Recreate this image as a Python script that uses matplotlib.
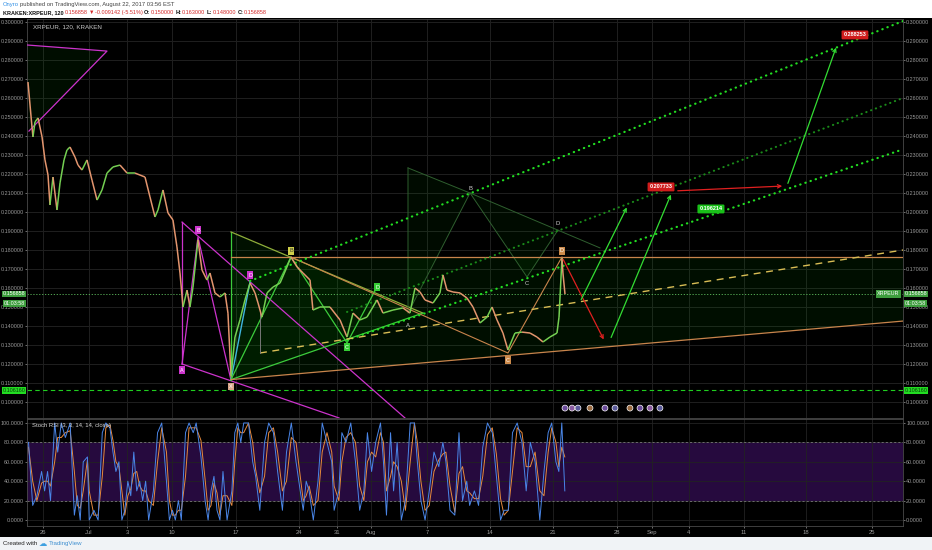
import matplotlib
matplotlib.use("Agg")
import matplotlib.pyplot as plt
from matplotlib.patches import Rectangle, Polygon
from matplotlib.collections import LineCollection
import matplotlib.transforms as mtransforms

plt.rcParams['font.family'] = ['Liberation Sans', 'DejaVu Sans']

# ---------------- data ----------------
date_ticks = [1.80, 6.97, 11.24, 16.29, 23.48, 30.56, 34.83, 38.65, 44.94, 52.02,
              59.10, 66.29, 70.22, 74.38, 80.56, 87.53, 94.94]
date_labels = ['26', 'Jul', '3', '10', '17', '24', '31', 'Aug', '7', '14',
               '21', '28', 'Sep', '4', '11', '18', '25']
price_ticks = [0.10, 0.11, 0.12, 0.13, 0.14, 0.15, 0.16, 0.17, 0.18, 0.19, 0.20,
               0.21, 0.22, 0.23, 0.24, 0.25, 0.26, 0.27, 0.28, 0.29, 0.30]
rsi_ticks = [0, 20, 40, 60, 80, 100]

price_u = [0.11, 0.56, 0.67, 0.90, 1.24, 1.69, 2.02, 2.36, 2.58, 2.92,
           3.37, 3.71, 4.16, 4.49, 4.83, 5.39, 5.73, 6.18, 6.74, 7.30,
           7.87, 8.43, 8.99, 9.66, 10.45, 11.24, 12.13, 13.26, 13.82, 14.38,
           14.72, 15.28, 15.84, 16.40, 16.85, 17.19, 17.53, 17.98, 18.31, 18.65,
           19.21, 19.66, 20.22, 20.56, 21.12, 21.69, 22.25, 22.58, 22.92, 23.37,
           23.93, 24.49, 25.06, 25.62, 25.96, 26.40, 26.97, 27.64, 28.43, 29.21,
           29.66, 30.34, 31.01, 31.80, 32.13, 32.92, 34.04, 35.17, 35.96, 36.63,
           37.42, 38.20, 39.33, 40.00, 41.12, 42.25, 43.03, 43.60, 44.16, 44.72,
           45.62, 46.40, 46.74, 47.19, 47.87, 48.65, 49.44, 50.11, 50.90, 51.69,
           52.25, 52.81, 53.48, 54.04, 54.83, 55.62, 56.52, 57.30, 57.98, 58.76,
           59.55, 59.78, 60.11, 60.22, 60.45]
price_p = [0.2684, 0.2447, 0.2395, 0.2474, 0.2495, 0.2395, 0.2274, 0.2195, 0.2037, 0.2184,
           0.2011, 0.2153, 0.2274, 0.2326, 0.2342, 0.2289, 0.2247, 0.2221, 0.2274, 0.2168,
           0.2063, 0.2116, 0.2205, 0.2237, 0.2247, 0.2205, 0.2205, 0.2184, 0.2079, 0.1974,
           0.2011, 0.2116, 0.1995, 0.1958, 0.1816, 0.1679, 0.1500, 0.1589, 0.1500, 0.1605,
           0.1853, 0.1695, 0.1642, 0.1679, 0.1574, 0.1553, 0.1574, 0.1468, 0.1135, 0.1342,
           0.1432, 0.1537, 0.1626, 0.1574, 0.1521, 0.1447, 0.1574, 0.1605, 0.1626, 0.1711,
           0.1763, 0.1711, 0.1679, 0.1642, 0.1484, 0.1500, 0.1500, 0.1432, 0.1342, 0.1468,
           0.1432, 0.1447, 0.1537, 0.1468, 0.1484, 0.1495, 0.1468, 0.1600, 0.1579, 0.1537,
           0.1521, 0.1574, 0.1668, 0.1589, 0.1579, 0.1574, 0.1547, 0.1500, 0.1416, 0.1447,
           0.1500, 0.1432, 0.1363, 0.1274, 0.1363, 0.1368, 0.1363, 0.1342, 0.1316, 0.1342,
           0.1363, 0.1447, 0.1758, 0.1679, 0.1568]

rsi_x = [0.17, 0.64, 1.11, 1.64, 1.98, 2.31, 2.64, 3.11, 3.45, 3.85,
         4.31, 4.85, 5.32, 5.65, 5.98, 6.32, 6.79, 6.99, 7.52, 7.99,
         8.46, 8.86, 9.32, 9.66, 9.99, 10.33, 10.66, 10.99, 11.33, 11.66,
         12.00, 12.33, 12.66, 13.00, 13.33, 13.67, 14.20, 14.67, 15.14, 15.67,
         16.00, 16.34, 16.67, 17.01, 17.34, 17.81, 18.21, 18.68, 19.01, 19.55,
         20.01, 20.35, 20.68, 21.01, 21.35, 21.68, 22.02, 22.48, 23.02, 23.35,
         23.69, 24.02, 24.35, 24.89, 25.36, 25.69, 26.16, 26.69, 27.16, 27.69,
         28.16, 28.70, 29.16, 29.70, 30.23, 30.70, 31.04, 31.37, 31.70, 32.17,
         32.70, 33.17, 33.71, 34.24, 34.51, 35.04, 35.38, 35.84, 36.38, 36.91,
         37.38, 37.85, 38.25, 38.72, 39.18, 39.72, 40.05, 40.39, 40.85, 41.19,
         41.59, 42.06, 42.52, 43.06, 43.53, 43.86, 44.26, 44.73, 45.20, 45.73,
         46.27, 46.73, 47.07, 47.53, 48.07, 48.54, 48.94, 49.41, 49.74, 50.27,
         50.74, 51.21, 51.74, 52.28, 52.74, 53.21, 53.61, 54.08, 54.55, 55.08,
         55.62, 56.09, 56.55, 57.09, 57.62, 58.09, 58.56, 58.96, 59.43, 59.76,
         60.09, 60.43]
rsi_k = [80, 15, 25, 50, 30, 50, 20, 100, 70, 100,
         85, 100, 5, 25, 0, 60, 65, 0, 10, 0,
         90, 100, 95, 70, 50, 60, 0, 10, 40, 25,
         70, 30, 40, 20, 40, 0, 30, 90, 100, 40,
         0, 10, 0, 20, 0, 90, 100, 90, 100, 65,
         20, 0, 30, 45, 10, 0, 50, 0, 30, 90,
         100, 80, 100, 100, 60, 45, 10, 80, 100, 90,
         50, 10, 70, 100, 60, 30, 10, 40, 30, 0,
         40, 100, 80, 60, 10, 30, 90, 80, 100, 60,
         10, 30, 90, 50, 80, 100, 60, 5, 90, 30,
         80, 0, 20, 100, 100, 60, 20, 0, 30, 70,
         55, 80, 60, 10, 5, 90, 20, 40, 15, 30,
         15, 75, 100, 90, 45, 0, 10, 10, 90, 100,
         80, 30, 80, 60, 0, 50, 90, 100, 60, 50,
         100, 30]
rsi_d = [75, 40, 20, 38, 40, 40, 35, 60, 85, 85,
         90, 92, 50, 15, 12, 30, 62, 30, 5, 5,
         45, 95, 98, 82, 60, 55, 30, 5, 25, 32,
         48, 50, 35, 30, 30, 20, 15, 60, 95, 70,
         20, 5, 5, 10, 10, 45, 95, 95, 95, 82,
         42, 10, 15, 38, 28, 5, 25, 25, 15, 60,
         95, 90, 90, 100, 80, 52, 28, 45, 90, 95,
         70, 30, 40, 85, 80, 45, 20, 25, 35, 15,
         20, 70, 90, 70, 35, 20, 60, 85, 90, 80,
         35, 20, 60, 70, 65, 90, 80, 30, 45, 60,
         55, 40, 10, 60, 100, 80, 40, 10, 15, 50,
         62, 68, 70, 35, 8, 48, 55, 30, 28, 22,
         22, 45, 88, 95, 68, 22, 5, 10, 50, 95,
         90, 55, 55, 70, 30, 25, 70, 95, 80, 55,
         75, 65]

# drawing anchors (date units, price)
mag_top = [(0.00, 0.2879), (8.99, 0.2847), (0.22, 0.2426)]
mag_X, mag_A, mag_B, mag_C, mag_D = (17.42, 0.1947), (17.42, 0.1200), (19.21, 0.1868), (22.92, 0.1115), (25.06, 0.1632)
mag_end1, mag_end2 = (42.47, 0.0916), (35.06, 0.0916)

tri_top, tri_X, tri_apex = (22.92, 0.1895), (22.92, 0.1118), (44.49, 0.1468)
grn_B, grn_C, grn_D = (29.66, 0.1763), (35.96, 0.1311), (39.33, 0.1605)

big_X, big_A, big_B, big_C, big_D, big_E = (42.81, 0.2232), (42.81, 0.1468), (49.78, 0.2100), (56.18, 0.1658), (59.66, 0.1905), (64.38, 0.1811)

org_B, org_C, org_D = (29.66, 0.1763), (54.04, 0.1258), (60.11, 0.1763)
org_top = [(22.92, 0.1763), (98.43, 0.1763)]
org_low = [(22.92, 0.1118), (98.43, 0.1426)]

dot_upper = [(25.06, 0.1637), (98.43, 0.3005)]
dot_mid = [(35.96, 0.1474), (98.43, 0.2600)]
dot_low = [(35.96, 0.1326), (98.43, 0.2330)]
yellow_dash = [(26.18, 0.1258), (98.43, 0.1800)]
gray_stub = [(26.18, 0.1468), (26.18, 0.1258)]

last_price = 0.156858
support = 0.10616

red_arrows = [[(60.11, 0.1763), (64.94, 0.1316)], [(72.81, 0.2111), (85.17, 0.2137)]]
green_arrows = [[(62.13, 0.1526), (67.53, 0.2037)], [(65.51, 0.1326), (72.47, 0.2105)],
                [(85.39, 0.2137), (91.01, 0.2879)]]
callouts = [('0.207733', (71.24, 0.2132), '#d01c1c'), ('0.288253', (93.03, 0.2932), '#d01c1c'),
            ('0.196214', (76.85, 0.2016), '#19c019')]
icon_u = [60.45, 61.24, 61.91, 63.26, 64.94, 66.07, 67.75, 68.88, 70.00, 71.12]
icon_p = 0.0968

# ---------------- figure ----------------
fig = plt.figure(figsize=(9.32, 5.5), dpi=100)
fig.patch.set_facecolor('white')


def fx(px):
    return px / 932.0


def fy(py):
    return 1 - py / 550.0


fig.add_artist(Rectangle((0, fy(537)), 1, (537 - 18) / 550, transform=fig.transFigure,
                         fc='#000000', ec='none', zorder=-10))
fig.add_artist(Rectangle((0, 0), 1, fy(537), transform=fig.transFigure,
                         fc='#f0f3f6', ec='none', zorder=-10))

AXFS = 3.9
ax = fig.add_axes([fx(27), fy(418), fx(903) - fx(27), fy(19) - fy(418)])
ax.set_facecolor('#000000')
ax.set_xlim(0, 98.43)
ax.set_ylim(0.09158, 0.30158)
ax.set_axisbelow(True)
ax.set_yticks(price_ticks)
ax.set_yticklabels(['%.6f' % v for v in price_ticks])
ax.tick_params(axis='y', left=True, right=True, labelleft=True, labelright=True,
               labelsize=AXFS, colors='#9a9a9a', length=1.5, width=0.5, pad=0.8)
ax.set_xticks(date_ticks)
ax.tick_params(axis='x', bottom=False, labelbottom=False)
ax.grid(True, color='#1f1f1f', lw=0.7)
for s in ax.spines.values():
    s.set_color('#4a4a4a')
    s.set_linewidth(0.6)


def pline(pts, **kw):
    ax.plot([p[0] for p in pts], [p[1] for p in pts], **kw)


# fills
ax.add_patch(Polygon([org_top[0], org_top[1], org_low[1], org_low[0]], closed=True,
                     fc=(0.0, 0.8, 0.0, 0.07), ec='none', zorder=1))
ax.add_patch(Polygon([tri_top, tri_X, tri_apex], closed=True, fc=(0.0, 0.9, 0.0, 0.07), ec='none', zorder=1))
ax.add_patch(Polygon([big_X, big_A, big_B], closed=True, fc=(0.0, 0.9, 0.0, 0.05), ec='none', zorder=1))
ax.add_patch(Polygon([big_B, big_C, big_D], closed=True, fc=(0.0, 0.9, 0.0, 0.05), ec='none', zorder=1))
ax.add_patch(Polygon(mag_top, closed=True, fc=(0.0, 0.9, 0.0, 0.06), ec='none', zorder=1))

# horizontal lines
ax.axhline(last_price, color='#5fbf5f', lw=0.6, ls=(0, (1.5, 2)), zorder=2)
ax.axhline(support, color='#1fcf1f', lw=0.8, ls=(0, (4, 3)), zorder=2)

# magenta drawings
mc = '#cc33cc'
pline([mag_top[0], mag_top[1], mag_top[2]], color=mc, lw=0.9, zorder=3)
pline([mag_X, mag_A], color=mc, lw=0.9, zorder=3)
pline([mag_A, mag_B, mag_C], color=mc, lw=0.9, zorder=3)
pline([mag_X, mag_end1], color=mc, lw=0.9, zorder=3)
pline([mag_A, mag_end2], color=mc, lw=0.9, zorder=3)
pline([mag_C, mag_D], color='#3fb6e0', lw=1.0, zorder=3)

# green triangle / pattern
gc = '#3ccc3c'
pline([tri_top, tri_X], color=gc, lw=0.9, zorder=3)
pline([tri_top, tri_apex], color='#8fae3a', lw=0.9, zorder=3)
pline([tri_X, tri_apex], color=gc, lw=0.9, zorder=3)
pline([tri_X, grn_B, grn_C, grn_D], color=gc, lw=0.9, zorder=3)

# faint big pattern
fc_ = '#2f5f2f'
pline([big_X, big_A, big_B, big_C, big_D], color=fc_, lw=0.7, zorder=3)
pline([big_X, big_B], color=fc_, lw=0.7, zorder=3)
pline([big_B, big_E], color=fc_, lw=0.7, zorder=3)

# orange pattern
oc = '#c8844c'
pline(org_top, color=oc, lw=0.9, zorder=3)
pline(org_low, color=oc, lw=0.9, zorder=3)
pline([org_B, org_C, org_D], color=oc, lw=0.8, zorder=3)

# channel dotted lines
dots = (0, (0.15, 2.3))
pline(dot_upper, color='#22dd22', lw=1.6, ls=dots, dash_capstyle='round', zorder=4)
pline(dot_mid, color='#1a8a1a', lw=1.5, ls=dots, dash_capstyle='round', zorder=4)
pline(dot_low, color='#22dd22', lw=1.6, ls=dots, dash_capstyle='round', zorder=4)
pline(yellow_dash, color='#d9bd55', lw=1.0, ls=(0, (5, 4)), zorder=4)
pline(gray_stub, color='#777777', lw=0.7, zorder=4)

# price series
segs = [[(price_u[i], price_p[i]), (price_u[i + 1], price_p[i + 1])] for i in range(len(price_u) - 1)]
cols = ['#74cf52' if price_p[i + 1] >= price_p[i] else '#e3956e' for i in range(len(price_u) - 1)]
ax.add_collection(LineCollection(segs, colors=cols, linewidths=1.1, zorder=5))

# projection arrows
for a in red_arrows:
    ax.annotate('', xy=a[1], xytext=a[0], zorder=6,
                arrowprops=dict(arrowstyle='->', color='#e02020', lw=0.9, mutation_scale=6))
for a in green_arrows:
    ax.annotate('', xy=a[1], xytext=a[0], zorder=6,
                arrowprops=dict(arrowstyle='->', color='#33dd33', lw=0.9, mutation_scale=6))
for txt, pos, c in callouts:
    ax.text(pos[0], pos[1], txt, fontsize=4.0, color='white', ha='center', va='center', zorder=7,
            fontweight='bold', bbox=dict(boxstyle='round,pad=0.35,rounding_size=0.2', fc=c, ec='none'))


def label(pos, s, fc, dy, tc='white'):
    ax.text(pos[0], pos[1] + dy, s, fontsize=4.0, color=tc, ha='center', va='center', zorder=7,
            bbox=dict(boxstyle='square,pad=0.2', fc=fc, ec='none'))


label(mag_A, 'A', '#cc33cc', -0.0032)
label(mag_B, 'B', '#cc33cc', 0.0037)
label(mag_D, 'D', '#cc33cc', 0.0036)
label(tri_X, 'X', '#d9a58a', -0.0036)
label(grn_B, 'B', '#cfcf4a', 0.0032, '#333333')
label(grn_C, 'C', '#33cc33', -0.0022)
label(grn_D, 'D', '#33cc33', 0.0)
label(org_C, 'C', '#cc8a4a', -0.0037)
label(org_D, 'D', '#cc8a4a', 0.0032)
for pos, s, dy in [(big_B, 'B', 0.0026), (big_C, 'C', -0.0032), (big_D, 'D', 0.0032), (big_A, 'A', -0.0063)]:
    ax.text(pos[0], pos[1] + dy, s, fontsize=4.2, color='#cfcfcf', ha='center', va='center', zorder=7)

# event icons
ax.scatter(icon_u, [icon_p] * len(icon_u), s=18, c=['#6a4a9a', '#8a5aa0', '#5a5a9a', '#9a6a40', '#6a4a9a',
                                                     '#5a5a9a', '#9a6a40', '#6a4a9a', '#8a5aa0', '#5a5a9a'],
           edgecolors='white', linewidths=0.5, zorder=7, clip_on=False)

# axis price boxes
bt = mtransforms.blended_transform_factory(ax.transAxes, ax.transData)
for xpos, ha in [(1.002, 'left'), (-0.002, 'right')]:
    ax.text(xpos, last_price, '%.6f' % last_price, transform=bt, ha=ha, va='center', fontsize=AXFS,
            color='white', zorder=8, clip_on=False, bbox=dict(boxstyle='square,pad=0.15', fc='#3e9e3e', ec='none'))
    ax.text(xpos, 0.1520, '01:03:58', transform=bt, ha=ha, va='center', fontsize=AXFS,
            color='white', zorder=8, clip_on=False, bbox=dict(boxstyle='square,pad=0.15', fc='#3e9e3e', ec='none'))
    ax.text(xpos, support, '%.6f' % support, transform=bt, ha=ha, va='center', fontsize=AXFS,
            color='#0a3a0a', zorder=8, clip_on=False, bbox=dict(boxstyle='square,pad=0.15', fc='#22dd22', ec='none'))
ax.text(0.996, last_price, 'XRPEUR', transform=bt, ha='right', va='center', fontsize=3.9, color='white',
        zorder=8, bbox=dict(boxstyle='square,pad=0.2', fc='#3e9e3e', ec='none'))

fig.text(fx(33), fy(27), 'XRPEUR, 120, KRAKEN', fontsize=4.5, color='#c8c8c8', va='center', ha='left')

# ---------------- Stoch RSI panel ----------------
rx = fig.add_axes([fx(27), fy(526), fx(903) - fx(27), fy(419) - fy(526)])
rx.set_facecolor('#000000')
rx.set_xlim(0, 98.43)
rx.set_ylim(-6.2, 104.1)
rx.set_axisbelow(True)
rx.axhspan(20, 80, fc='#260a3e', ec='none', zorder=0)
rx.grid(True, color='#222222', lw=0.6)
rx.axhline(80, color='#8a8a8a', lw=0.5, ls=(0, (3, 3)), zorder=1)
rx.axhline(20, color='#8a8a8a', lw=0.5, ls=(0, (3, 3)), zorder=1)
rx.plot(rsi_x, rsi_d, color='#e88a3c', lw=0.7, zorder=3)
rx.plot(rsi_x, rsi_k, color='#4a86e8', lw=0.7, zorder=4)
rx.set_yticks(rsi_ticks)
rx.set_yticklabels(['%.4f' % v for v in rsi_ticks])
rx.tick_params(axis='y', left=True, right=True, labelleft=True, labelright=True,
               labelsize=AXFS, colors='#9a9a9a', length=1.5, width=0.5, pad=0.8)
rx.set_xticks(date_ticks)
rx.set_xticklabels(date_labels)
rx.tick_params(axis='x', labelsize=4.2, colors='#9a9a9a', length=1.5, width=0.5, pad=1.2)
for s in rx.spines.values():
    s.set_color('#4a4a4a')
    s.set_linewidth(0.6)
fig.text(fx(32), fy(425), 'Stoch RSI (3, 3, 14, 14, close)', fontsize=4.2, color='#d8d8d8',
         va='center', ha='left', zorder=10)

# ---------------- header / footer ----------------
renderer = fig.canvas.get_renderer()


def seq_text(x_px, y_px, pieces, size):
    x = x_px
    for s, c, w in pieces:
        t = fig.text(fx(x), fy(y_px), s, color=c, fontsize=size, fontweight=w, va='center', ha='left')
        x += t.get_window_extent(renderer=renderer).width + 1.0


seq_text(3, 4.5, [('Onyro', '#2f8fe6', 'normal'),
                  ('published on TradingView.com, August 22, 2017 03:56 EST', '#444444', 'normal')], 4.2)
red = '#d42a2a'
seq_text(3, 12.5, [('KRAKEN:XRPEUR, 120', '#111111', 'bold'), ('0.156858', red, 'normal'),
                   ('\u25bc', red, 'normal'), ('-0.009142 (-5.51%)', red, 'normal'),
                   ('O:', '#111111', 'bold'), ('0.150000', red, 'normal'),
                   ('H:', '#111111', 'bold'), ('0.163000', red, 'normal'),
                   ('L:', '#111111', 'bold'), ('0.148000', red, 'normal'),
                   ('C:', '#111111', 'bold'), ('0.156858', red, 'normal')], 4.0)
fig.text(fx(3), fy(543.5), 'Created with', fontsize=4.4, color='#222222', va='center', ha='left')
fig.text(fx(39), fy(543.5), '\u2601', fontsize=6, color='#3fa0e0', va='center', ha='left',
         family=['DejaVu Sans'])
fig.text(fx(49), fy(543.5), 'TradingView', fontsize=4.4, color='#3f8fd0', va='center', ha='left')

fig.savefig('out.png', dpi=100, facecolor=fig.get_facecolor())
